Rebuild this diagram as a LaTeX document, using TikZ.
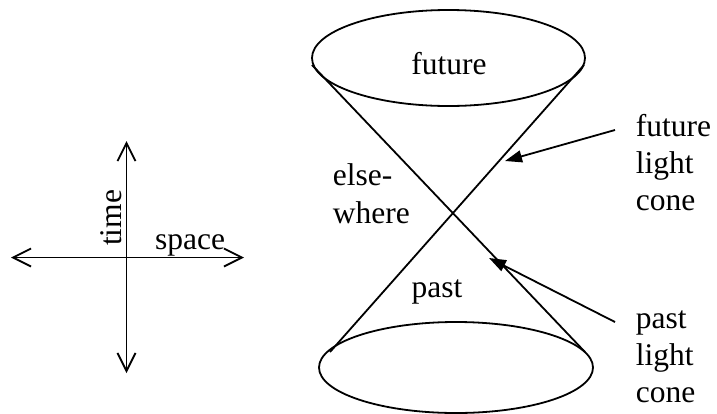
\documentclass[tikz,border=0pt]{standalone}
\usepackage{fontspec}
\setmainfont{Liberation Serif}
\usetikzlibrary{arrows.meta}
\begin{document}
\begin{tikzpicture}[x=1pt,y=-1pt,line width=1.8pt,
  lbl/.style={inner sep=0pt,font=\fontsize{31.5}{37}\selectfont},
  axisline/.style={{Straight Barb[length=18pt,width=18pt]}-{Straight Barb[length=18pt,width=18pt]}},
  pointer/.style={-{Triangle[length=17pt,width=12pt]}}]
\useasboundingbox (0,0) rectangle (717,413);
% axes
\coordinate (tTop) at (126.5,141);
\coordinate (tBot) at (126.5,373);
\coordinate (sLeft) at (11,257.5);
\coordinate (sRight) at (244,257.5);
\draw[axisline] (tBot) -- (tTop);
\draw[axisline] (sLeft) -- (sRight);
\node[lbl,rotate=90,anchor=base] (time) at (121.5,218) {time};
\node[lbl,anchor=base] (space) at (190,249) {space};
% cone
\coordinate (fut) at (448.5,58);
\coordinate (pst) at (456,367.5);
\draw (fut) ellipse [x radius=136.5, y radius=48];
\draw (pst) ellipse [x radius=137, y radius=45.5];
\coordinate (tl) at (312,65);
\coordinate (tr) at (584,65);
\coordinate (bl) at (330,352);
\coordinate (br) at (585,352);
\draw (tl) -- (br);
\draw (tr) -- (bl);
\node[lbl,anchor=base] (futtxt) at (449,74) {future};
\node[lbl,anchor=base] (pasttxt) at (437,297) {past};
\node[lbl,anchor=base west] (else1) at (332,185) {else-};
\node[lbl,anchor=base west] (else2) at (332,223) {where};
% labels right
\node[lbl,anchor=base west] (f1) at (635,136) {future};
\node[lbl,anchor=base west] (f2) at (635,173) {light};
\node[lbl,anchor=base west] (f3) at (635,210) {cone};
\node[lbl,anchor=base west] (p1) at (635,328) {past};
\node[lbl,anchor=base west] (p2) at (635,365) {light};
\node[lbl,anchor=base west] (p3) at (635,402) {cone};
\coordinate (fa) at (615,130);
\coordinate (fatip) at (505,161);
\coordinate (pa) at (615,322);
\coordinate (patip) at (489,258);
\draw[pointer] (fa) -- (fatip);
\draw[pointer] (pa) -- (patip);
\end{tikzpicture}
\end{document}
